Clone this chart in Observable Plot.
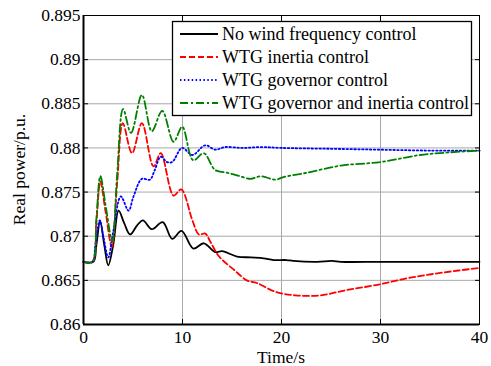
<!DOCTYPE html>
<html><head><meta charset="utf-8">
<script src="https://cdn.jsdelivr.net/npm/d3@7"></script>
<script src="https://cdn.jsdelivr.net/npm/@observablehq/plot@0.6"></script>
<style>
body{margin:0;background:#fff}
#chart{width:491px;height:366px}
</style>
</head><body><div id="chart"></div>
<script>
const seriesNames = ["No wind frequency control","WTG inertia control","WTG governor control","WTG governor and inertia control"];
const seriesColors = ["#000000","#ff0000","#0000ff","#008000"];
const seriesDash = ["none","6,3","1.5,2.4","8,3,2,3"];

const tNoWind = [0,1.0,1.3,1.68,2.1,2.5,3.0,3.55,4.1,4.7,5.4,6.0,6.9,8.0,8.96,9.9,11.1,12.15,13.3,14.0,15.5,16.9,18.2,19.2,20.5,21.2,23.6,25.1,26,30,35,40];
const vNoWind = [0.8671,0.8671,0.8690,0.8717,0.8690,0.8667,0.8690,0.8729,0.8715,0.8702,0.8712,0.8718,0.8708,0.8716,0.8697,0.8706,0.8686,0.8692,0.8682,0.8683,0.8677,0.8676,0.8675,0.8673,0.8673,0.8672,0.8671,0.8672,0.8671,0.8671,0.8671,0.8671];

const tInertia = [0,0.9,1.3,1.7,2.2,2.86,3.4,3.97,4.9,5.9,7.07,7.8,9.1,9.87,11.0,11.65,12.3,12.8,13.7,15.2,16.5,17.5,19.4,21.4,23.9,26.6,29.7,33.0,36.4,40];
const vInertia = [0.8671,0.8671,0.8715,0.8762,0.8730,0.8688,0.8760,0.8828,0.8794,0.8828,0.8779,0.8794,0.8746,0.8753,0.8718,0.8702,0.8703,0.8694,0.8677,0.8662,0.8650,0.8647,0.8637,0.8633,0.8633,0.8639,0.8645,0.8653,0.8659,0.8664];

const tGovernor = [0,0.9,1.2,1.65,2.0,2.5,3.0,3.77,4.55,5.05,5.9,6.7,7.2,7.8,8.45,8.96,9.96,11.0,12.3,13.3,14.3,16,18,20,25,30,35,40];
const vGovernor = [0.8671,0.8671,0.8690,0.8718,0.8700,0.8676,0.8705,0.8745,0.8729,0.8745,0.8765,0.8764,0.8775,0.8790,0.8784,0.8784,0.8800,0.8792,0.8803,0.8798,0.8801,0.8800,0.8801,0.8800,0.8799,0.8798,0.8797,0.8797];

const tBoth = [0,0.9,1.3,1.7,2.3,2.9,3.4,4.0,4.8,5.9,6.9,7.95,9.1,9.97,11.08,12.15,13.3,14.5,15.5,16.9,17.9,19.4,20.2,22.6,26.0,30.0,34.0,37,40];
const vBoth = [0.8671,0.8671,0.8720,0.8768,0.8730,0.8694,0.8770,0.8844,0.8817,0.8860,0.8819,0.8842,0.8807,0.8824,0.8786,0.8794,0.8775,0.8772,0.8769,0.8765,0.8768,0.8764,0.8767,0.8772,0.8780,0.8784,0.8792,0.8795,0.8797];

const xTicks = [0,10,20,30,40];
const yTicks = [0.86,0.865,0.87,0.875,0.88,0.885,0.89,0.895];
const yTickLabels = ["0.86","0.865","0.87","0.875","0.88","0.885","0.89","0.895"];
const xLabel = "Time/s";
const yLabel = "Real power/p.u.";

const allT = [tNoWind,tInertia,tGovernor,tBoth];
const allV = [vNoWind,vInertia,vGovernor,vBoth];
const series = allT.map((ts,i)=>ts.map((t,j)=>({t, v: allV[i][j], s: seriesNames[i]})));

const font = "Liberation Serif, serif";
const chart = Plot.plot({
  width:491, height:366, marginLeft:83, marginRight:12, marginTop:15, marginBottom:42,
  style:{fontFamily:font, fontSize:"18px", color:"#000", background:"#fff"},
  x:{domain:[0,40]},
  y:{domain:[0.86,0.895]},
  marks:[
    Plot.gridX(xTicks,{stroke:"#a8a8a8", strokeOpacity:1, strokeWidth:1}),
    Plot.gridY(yTicks,{stroke:"#a8a8a8", strokeOpacity:1, strokeWidth:1}),
    ...series.map((d,i)=>Plot.line(d,{x:"t", y:"v", stroke:seriesColors[i], strokeWidth:1.8, strokeDasharray:seriesDash[i], curve:"catmull-rom"})),
    Plot.frame({stroke:"#000", strokeWidth:1}),
    Plot.ruleX([0],{stroke:"#000", strokeWidth:2}),
    Plot.ruleY([0.86],{stroke:"#000", strokeWidth:2}),
    Plot.axisX(xTicks,{anchor:"bottom", tickSize:0, tickPadding:6, label:null, fontSize:17.5}),
    Plot.axisY(yTicks,{anchor:"left", tickSize:0, tickPadding:3, tickFormat:(d)=>yTickLabels[yTicks.indexOf(d)], label:null, fontSize:17.5}),
    Plot.axisX(xTicks,{anchor:"bottom", tickSize:-5, tickFormat:()=>"", label:null}),
    Plot.axisX(xTicks,{anchor:"top", tickSize:-5, tickFormat:()=>"", label:null}),
    Plot.axisY(yTicks,{anchor:"left", tickSize:-5, tickFormat:()=>"", label:null}),
    Plot.axisY(yTicks,{anchor:"right", tickSize:-5, tickFormat:()=>"", label:null})
  ]
});

const svg = d3.select(chart);
const xs = chart.scale("x"), ys = chart.scale("y");
const xMid = (xs.apply(0)+xs.apply(40))/2, yMid = (ys.apply(0.86)+ys.apply(0.895))/2;
svg.append("text").attr("x",xMid).attr("y",363).attr("text-anchor","middle").attr("font-size",17.5).attr("fill","#000").text(xLabel);
svg.append("text").attr("transform",`translate(25,${yMid}) rotate(-90)`).attr("text-anchor","middle").attr("font-size",17.5).attr("fill","#000").text(yLabel);

// legend
const lg = svg.append("g").attr("font-size", 18).attr("text-anchor","start");
lg.append("rect").attr("x",172.5).attr("y",21.5).attr("width",299).attr("height",94).attr("fill","#fff").attr("stroke","#000").attr("stroke-width",1.3);
seriesNames.forEach((name,i)=>{
  const cy = 34 + i*23;
  lg.append("line").attr("x1",180).attr("x2",218).attr("y1",cy).attr("y2",cy)
    .attr("stroke",seriesColors[i]).attr("stroke-width",1.8).attr("stroke-dasharray",seriesDash[i]);
  lg.append("text").attr("x",222).attr("y",cy+6).attr("fill","#000").attr("text-anchor","start").text(name);
});
svg.selectAll("text").style("font-family", font).style("font-weight","normal");
document.getElementById("chart").appendChild(chart);
</script>
</body></html>
